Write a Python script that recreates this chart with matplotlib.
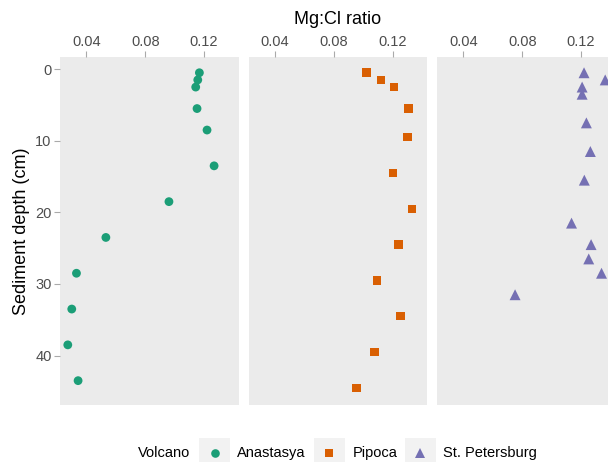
import matplotlib
matplotlib.use("Agg")
import matplotlib.pyplot as plt
from matplotlib.patches import Rectangle
from matplotlib.lines import Line2D

plt.rcParams['font.family'] = ['Liberation Sans', 'DejaVu Sans']

# Mg:Cl ratio vs sediment depth for three volcanoes
volcanoes = ['Anastasya', 'Pipoca', 'St. Petersburg']
colors = ['#1B9E77', '#D95F02', '#7570B3']
markers = ['o', 's', '^']
sizes = [40, 38, 62]

anastasya_depth = [0.5, 1.5, 2.5, 5.5, 8.5, 13.5, 18.5, 23.5, 28.5, 33.5, 38.5, 43.5]
anastasya_ratio = [0.1168, 0.1157, 0.1143, 0.1152, 0.1220, 0.1268, 0.0961, 0.0532,
                   0.0332, 0.0300, 0.0273, 0.0343]

pipoca_depth = [0.5, 1.5, 2.5, 5.5, 9.5, 14.5, 19.5, 24.5, 29.5, 34.5, 39.5, 44.5]
pipoca_ratio = [0.1024, 0.1121, 0.1210, 0.1307, 0.1303, 0.1203, 0.1332, 0.1241,
                0.1094, 0.1252, 0.1076, 0.0953]

stpete_depth = [0.5, 1.5, 2.5, 3.5, 7.5, 11.5, 15.5, 21.5, 24.5, 26.5, 28.5, 31.5]
stpete_ratio = [0.1220, 0.1364, 0.1207, 0.1207, 0.1236, 0.1263, 0.1222, 0.1135,
                0.1268, 0.1252, 0.1339, 0.0751]

x_ticks = [0.04, 0.08, 0.12]
x_tick_labels = ['0.04', '0.08', '0.12']
y_ticks = [0, 10, 20, 30, 40]

W, H = 608, 462


def fx(px):
    return px / W


def fy(py):
    return 1 - py / H


fig = plt.figure(figsize=(W / 100, H / 100), dpi=100)

panel_left = [60, 248.5, 437]
panel_w = 178.5
panel_top, panel_bot = 57, 405
series = [(anastasya_ratio, anastasya_depth), (pipoca_ratio, pipoca_depth),
          (stpete_ratio, stpete_depth)]

tick_col = '#4D4D4D'
for i, (xs, ys) in enumerate(series):
    ax = fig.add_axes([fx(panel_left[i]), fy(panel_bot), fx(panel_w),
                       (panel_bot - panel_top) / H])
    ax.set_facecolor('#EBEBEB')
    for s in ax.spines.values():
        s.set_visible(False)
    ax.scatter(xs, ys, s=sizes[i], marker=markers[i], color=colors[i],
               edgecolors='none', zorder=3, clip_on=True)
    ax.set_xlim(0.022, 0.1434)
    ax.set_ylim(46.9, -1.7)
    ax.xaxis.tick_top()
    ax.set_xticks(x_ticks)
    ax.set_xticklabels(x_tick_labels)
    ax.tick_params(axis='x', length=4, width=0.8, color='#AAAAAA',
                   labelsize=10.5, labelcolor=tick_col, pad=2)
    if i == 0:
        ax.set_yticks(y_ticks)
        ax.tick_params(axis='y', length=4, width=0.8, color='#AAAAAA',
                       labelsize=10.5, labelcolor=tick_col, pad=2)
    else:
        ax.set_yticks([])

fig.text(fx(338), fy(19), 'Mg:Cl ratio', ha='center', va='center', fontsize=13)
fig.text(fx(22), fy(231), 'Sediment depth (cm)', ha='center', va='center',
         rotation=90, fontsize=13)

# legend at bottom
leg_y = 453
fig.text(fx(138.3), fy(leg_y), 'Volcano', ha='left', va='center', fontsize=10.5)
box_left = [199, 313.5, 404.5]
text_left = [237.3, 352.3, 442.7]
for i, name in enumerate(volcanoes):
    fig.add_artist(Rectangle((fx(box_left[i]), fy(leg_y + 16)), fx(31), 31 / H,
                             transform=fig.transFigure, facecolor='#F2F2F2',
                             edgecolor='none'))
    fig.add_artist(Line2D([fx(box_left[i] + 15.5)], [fy(leg_y)], marker=markers[i],
                          markersize=[6.2, 5.9, 7.8][i], color=colors[i],
                          markeredgewidth=0, linestyle='none',
                          transform=fig.transFigure))
    fig.text(fx(text_left[i]), fy(leg_y), name, ha='left', va='center',
             fontsize=10.5)

fig.savefig('out.png', dpi=100)
